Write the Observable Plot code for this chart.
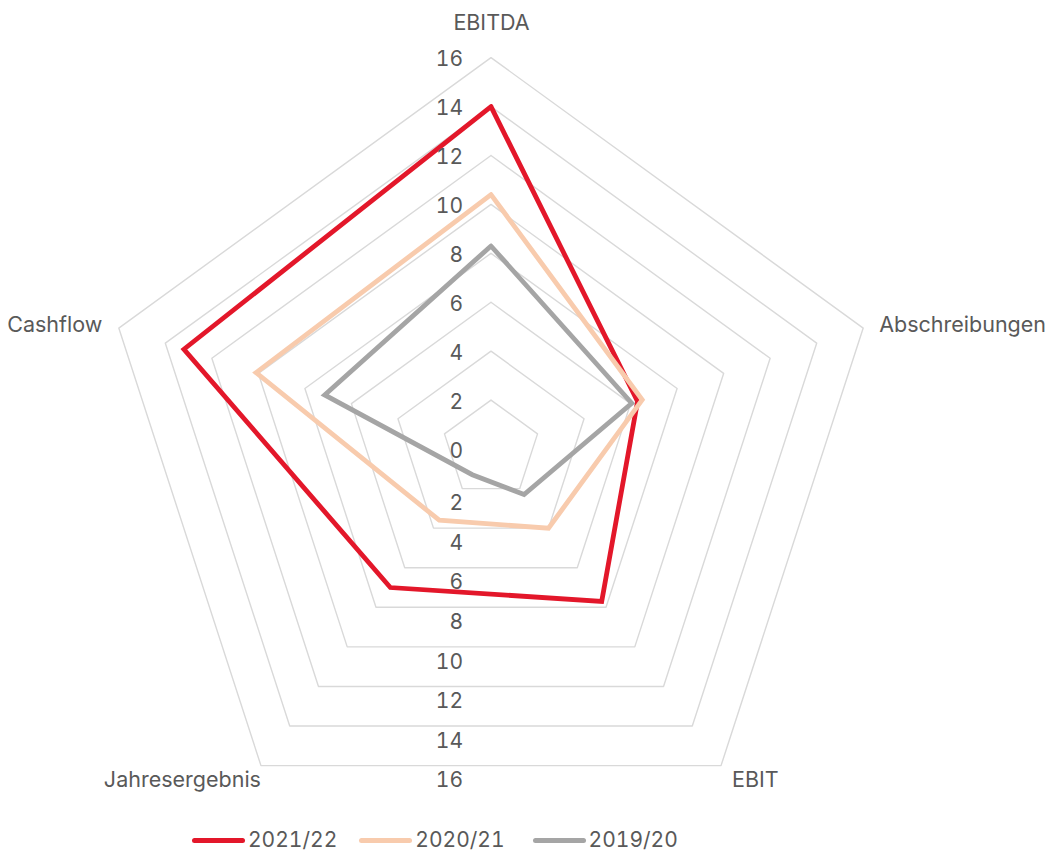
<!DOCTYPE html>
<html>
<head>
<meta charset="utf-8">
<script src="https://cdn.jsdelivr.net/npm/d3@7"></script>
<script src="https://cdn.jsdelivr.net/npm/@observablehq/plot@0.6"></script>
<style>
  html, body { margin: 0; padding: 0; background: #fff; }
  body { width: 1048px; height: 852px; position: relative; overflow: hidden; font-family: Inter, "Liberation Sans", sans-serif; }
  #chart { position: absolute; left: 0; top: 0; }
  #legend { position: absolute; left: 192px; top: 828px; height: 24px; display: flex; align-items: center; font-size: 21px; color: #595959; line-height: 24px; font-variant-numeric: tabular-nums; }
  .item { display: flex; align-items: center; }
  .swatch { width: 53px; height: 5px; border-radius: 3px; margin-right: 3px; }
</style>
</head>
<body>
<div id="chart"></div>
<div id="legend"></div>
<script>
// ---- data ----
const axes = ["EBITDA", "Abschreibungen", "EBIT", "Jahresergebnis", "Cashflow"];
const seriesNames = ["2021/22", "2020/21", "2019/20"];
const values2122 = [14.0, 6.3, 7.7, 7.0, 13.2];
const values2021 = [10.4, 6.5, 4.0, 3.6, 10.1];
const values1920 = [8.3, 6.05, 2.3, 1.3, 7.15];
const tickValues = [0, 2, 4, 6, 8, 10, 12, 14, 16];
const colors = ["#e3172a", "#f8cbad", "#a5a5a5"];

// ---- geometry ----
const W = 1048, H = 815, cx = 490.5, cy = 448.5, unit = 24.46, maxV = 16;
const n = axes.length;
const ang = i => (i % n) * 2 * Math.PI / n;
const pt = (v, i) => ({x: v * Math.sin(ang(i)), y: v * Math.cos(ang(i))});

const gridRows = [];
tickValues.filter(t => t > 0).forEach(t => {
  for (let i = 0; i <= n; i++) gridRows.push({ring: t, ...pt(t, i)});
});

const allValues = [values2122, values2021, values1920];
const seriesRows = [];
seriesNames.forEach((s, k) => {
  for (let i = 0; i <= n; i++) {
    const v = allValues[k][i % n];
    seriesRows.push({series: s, axis: axes[i % n], value: v, ...pt(v, i)});
  }
});

// label placement for each axis name (pixel offsets from outer vertex)
const labelPlacement = [
  {anchor: "middle", dx: 0.5, dy: -34.5},
  {anchor: "start", dx: 16, dy: -3},
  {anchor: "start", dx: 11, dy: 14},
  {anchor: "end", dx: 0, dy: 14},
  {anchor: "end", dx: -16.5, dy: -3}
];

const textColor = "#595959";
const tickFont = 21;
const labelFont = 21.5;

const axisLabelMarks = axes.map((name, i) => {
  const p = pt(maxV, i);
  const pl = labelPlacement[i];
  return Plot.text([{name, ...p}], {
    x: "x", y: "y", text: "name",
    textAnchor: pl.anchor, dx: pl.dx, dy: pl.dy,
    fill: textColor, fontSize: labelFont
  });
});

const chart = Plot.plot({
  width: W,
  height: H,
  margin: 0,
  x: {domain: [-cx / unit, (W - cx) / unit], axis: null},
  y: {domain: [-(H - cy) / unit, cy / unit], axis: null},
  color: {domain: seriesNames, range: colors},
  style: {fontFamily: "Inter, 'Liberation Sans', sans-serif", background: "white", overflow: "visible"},
  marks: [
    Plot.line(gridRows, {x: "x", y: "y", z: "ring", stroke: "#d9d9d9", strokeWidth: 1.4}),
    Plot.line(seriesRows, {x: "x", y: "y", z: "series", stroke: "series", strokeWidth: 4.8, strokeLinejoin: "miter", strokeMiterlimit: 10}),
    Plot.text(tickValues, {x: () => 0, y: d => d, text: d => String(d), textAnchor: "end", dx: -28, dy: 2, fill: textColor, fontSize: tickFont, fontVariant: "tabular-nums"}),
    Plot.text(tickValues.filter(t => t > 0), {x: () => 0, y: d => -d * Math.cos(Math.PI / n), text: d => String(d), textAnchor: "end", dx: -28, dy: 15, fill: textColor, fontSize: tickFont, fontVariant: "tabular-nums"}),
    ...axisLabelMarks
  ]
});
document.getElementById("chart").appendChild(chart);

// ---- legend ----
const legend = document.getElementById("legend");
seriesNames.forEach((s, k) => {
  const item = document.createElement("div");
  item.className = "item";
  if (k > 0) item.style.marginLeft = (k === 1 ? 22 : 28) + "px";
  const sw = document.createElement("span");
  sw.className = "swatch";
  sw.style.background = colors[k];
  const lab = document.createElement("span");
  lab.textContent = s;
  item.appendChild(sw);
  item.appendChild(lab);
  legend.appendChild(item);
});
</script>
</body>
</html>
